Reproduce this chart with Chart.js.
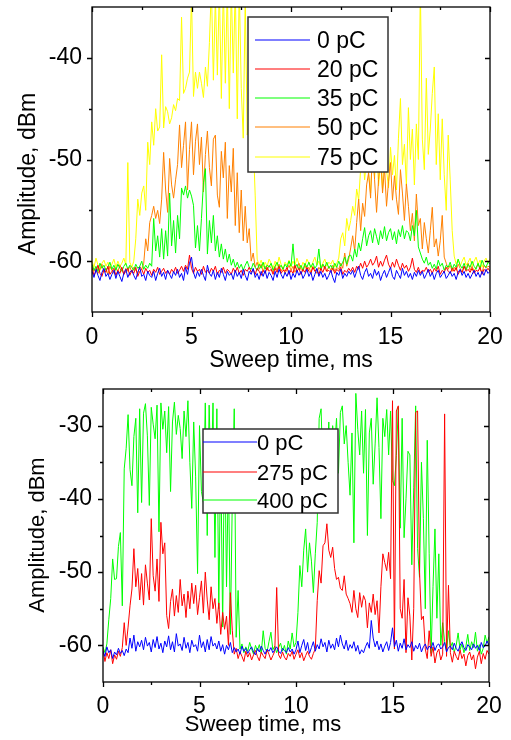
<!DOCTYPE html>
<html>
<head>
<meta charset="utf-8">
<script src="https://cdn.jsdelivr.net/npm/chart.js@4.4.0/dist/chart.umd.min.js"></script>
<style>
  html, body { margin: 0; padding: 0; background: #fff; }
  body { width: 511px; height: 740px; position: relative; overflow: hidden; }
  .panel { position: absolute; left: 0; width: 511px; }
  #top { top: 0; height: 380px; }
  #bottom { top: 380px; height: 360px; }
</style>
</head>
<body>
<div class="panel" id="top"><canvas id="chartTop" width="511" height="380"></canvas></div>
<div class="panel" id="bottom"><canvas id="chartBottom" width="511" height="360"></canvas></div>
<script>
// sweep samples every 0.1 ms, 0..20 ms
const STEP = 0.1
const xTicks = [0, 5, 10, 15, 20]
const xMinor = [2.5, 7.5, 12.5, 17.5]
const topYTicks = [-60, -50, -40]
const topYMinor = [-55, -45]
const botYTicks = [-60, -50, -40, -30]
const botYMinor = [-55, -45, -35]

const topLabels = ["0 pC", "20 pC", "35 pC", "50 pC", "75 pC"]
const botLabels = ["0 pC", "275 pC", "400 pC"]

// top panel
const top0 = [
  -61.0,-61.6,-60.8,-61.4,-61.9,-61.1,-60.7,-61.5,-61.2,-61.8,
  -61.3,-60.9,-61.7,-61.0,-61.5,-62.0,-61.2,-60.8,-61.6,-61.1,
  -60.9,-61.4,-61.8,-61.1,-60.6,-61.5,-61.3,-61.9,-61.0,-61.4,
  -61.6,-61.0,-61.9,-61.2,-60.7,-61.5,-61.1,-61.8,-60.9,-61.3,
  -61.7,-61.0,-61.4,-60.8,-61.6,-61.2,-61.9,-60.6,-61.3,-60.2,
  -59.6,-61.1,-61.7,-61.0,-61.5,-60.8,-61.4,-61.9,-60.4,-61.2,
  -61.5,-60.9,-61.8,-61.1,-61.6,-60.7,-61.3,-61.9,-61.0,-61.4,
  -61.2,-61.8,-60.9,-61.5,-61.1,-61.7,-60.8,-61.4,-61.9,-61.0,
  -61.3,-60.7,-61.6,-61.2,-61.8,-61.0,-61.5,-60.9,-61.7,-61.1,
  -61.4,-61.9,-61.0,-61.6,-60.8,-61.3,-61.7,-61.1,-61.5,-60.9,
  -61.8,-61.2,-61.6,-60.9,-61.4,-61.0,-61.7,-61.3,-60.8,-61.5,
  -61.1,-61.9,-61.3,-60.7,-61.5,-61.0,-61.6,-61.2,-61.8,-61.4,
  -60.9,-61.6,-62.1,-61.1,-61.4,-60.8,-61.7,-61.2,-61.5,-61.0,
  -61.3,-60.9,-61.6,-61.0,-60.5,-61.4,-61.8,-61.1,-60.7,-61.5,
  -61.2,-61.7,-60.8,-61.4,-61.0,-61.9,-61.3,-60.9,-61.6,-61.1,
  -60.6,-61.5,-61.8,-60.9,-61.3,-61.7,-60.7,-61.4,-61.0,-61.6,
  -61.2,-61.8,-61.1,-61.5,-60.9,-61.4,-61.0,-61.7,-61.3,-60.8,
  -61.5,-61.1,-61.8,-61.2,-60.9,-61.6,-61.3,-61.0,-61.7,-61.4,
  -61.0,-61.5,-61.2,-61.8,-61.1,-60.8,-61.4,-61.0,-61.6,-61.2,
  -61.7,-61.3,-60.9,-61.5,-61.1,-61.6,-61.0,-61.4,-60.8,-61.2,
  -61.0
]
const top20 = [
  -60.6,-61.4,-61.0,-60.4,-61.2,-61.5,-60.8,-61.1,-60.5,-61.3,
  -61.0,-60.7,-61.4,-60.9,-61.2,-60.6,-61.3,-61.0,-60.7,-61.4,
  -60.9,-61.2,-60.6,-61.5,-61.0,-60.8,-61.3,-60.7,-61.1,-60.9,
  -61.4,-60.8,-61.1,-60.6,-61.3,-61.0,-60.7,-61.2,-60.9,-61.3,
  -60.8,-61.1,-60.6,-61.2,-60.9,-60.5,-61.0,-60.4,-60.8,-59.4,
  -60.7,-61.2,-60.6,-61.0,-60.8,-61.3,-60.5,-61.1,-60.9,-61.2,
  -60.7,-61.0,-60.5,-61.3,-60.9,-61.1,-60.6,-61.2,-60.8,-61.0,
  -61.3,-60.7,-61.1,-60.6,-61.2,-60.9,-61.4,-60.8,-61.0,-60.6,
  -61.1,-60.8,-61.3,-60.7,-61.0,-61.4,-60.9,-61.2,-60.6,-61.0,
  -60.8,-61.3,-60.7,-61.1,-60.5,-61.2,-60.9,-61.0,-60.6,-61.3,
  -60.9,-61.2,-60.4,-61.0,-60.7,-61.3,-60.8,-61.1,-60.6,-61.0,
  -61.2,-60.6,-61.0,-60.8,-61.3,-60.7,-61.1,-60.5,-61.0,-60.9,
  -61.1,-60.7,-61.2,-60.8,-61.0,-60.6,-61.3,-60.9,-61.1,-60.7,
  -61.0,-60.6,-61.1,-60.5,-60.8,-60.2,-60.7,-60.0,-60.6,-60.3,
  -59.8,-60.4,-60.1,-59.5,-60.6,-60.0,-60.5,-59.9,-59.4,-60.3,
  -60.7,-60.1,-60.6,-59.8,-60.4,-60.9,-60.2,-60.7,-60.4,-61.0,
  -60.6,-59.7,-60.8,-61.1,-60.6,-61.2,-60.9,-61.0,-60.6,-61.1,
  -60.8,-61.2,-60.7,-61.0,-60.5,-61.3,-60.9,-61.1,-60.6,-61.0,
  -61.2,-60.7,-61.0,-60.6,-61.3,-60.9,-61.1,-60.5,-61.0,-60.8,
  -61.1,-60.7,-61.2,-60.9,-61.0,-60.6,-61.3,-60.8,-61.0,-60.7,
  -61.0
]
const top35 = [
  -60.3,-60.9,-60.5,-61.0,-60.2,-60.7,-60.4,-60.9,-60.6,-60.1,
  -60.8,-60.4,-60.9,-60.3,-60.7,-61.0,-60.5,-60.2,-60.8,-60.4,
  -60.6,-60.9,-60.3,-60.7,-60.5,-60.0,-60.8,-60.4,-60.7,-60.2,
  -60.5,-55.8,-59.0,-57.5,-59.6,-56.8,-59.8,-57.0,-59.5,-53.3,
  -58.5,-56.0,-59.2,-55.5,-57.8,-52.8,-53.5,-52.6,-53.8,-53.0,
  -53.6,-54.5,-58.7,-56.5,-59.0,-55.8,-52.3,-50.9,-59.3,-56.0,
  -58.2,-55.5,-59.0,-57.5,-59.6,-58.3,-59.8,-58.8,-60.1,-59.3,
  -60.4,-59.8,-60.6,-60.1,-60.7,-60.3,-60.9,-60.4,-60.0,-60.6,
  -60.8,-60.2,-60.6,-60.9,-60.3,-60.7,-60.1,-60.8,-60.4,-60.6,
  -60.2,-60.9,-60.5,-60.1,-60.7,-60.4,-60.8,-60.3,-60.6,-60.0,
  -60.5,-58.3,-60.7,-60.3,-60.8,-60.4,-60.9,-60.2,-60.6,-60.1,
  -60.6,-60.2,-60.7,-60.4,-58.8,-60.8,-60.3,-60.6,-60.1,-60.7,
  -60.4,-60.8,-60.2,-60.6,-60.0,-60.5,-60.1,-59.6,-60.3,-59.5,
  -59.4,-60.0,-58.8,-59.6,-58.2,-59.0,-57.8,-56.7,-58.5,-57.5,
  -57.0,-58.2,-56.8,-57.6,-58.4,-57.0,-57.8,-56.6,-58.0,-57.2,
  -56.8,-57.9,-57.1,-58.3,-56.9,-57.6,-56.5,-57.8,-57.0,-57.2,
  -58.0,-56.5,-57.5,-55.0,-58.6,-59.2,-59.8,-60.2,-59.6,-60.4,
  -60.1,-60.7,-60.3,-60.8,-59.9,-60.5,-60.2,-60.9,-60.4,-60.6,
  -60.1,-60.8,-60.3,-60.6,-59.8,-60.4,-60.7,-60.2,-60.9,-60.3,
  -60.6,-60.0,-60.5,-60.8,-60.2,-60.7,-59.9,-60.4,-60.6,-60.1,
  -60.3
]
const top50 = [
  -60.4,-61.0,-60.6,-61.2,-60.8,-60.3,-61.1,-60.7,-61.3,-60.5,
  -60.9,-61.2,-60.6,-61.0,-60.4,-60.8,-61.3,-60.7,-61.0,-60.5,
  -61.1,-60.6,-60.9,-61.2,-60.5,-60.8,-60.2,-57.8,-59.0,-56.2,
  -55.5,-54.6,-55.8,-55.0,-56.3,-53.9,-49.3,-53.0,-55.2,-49.9,
  -52.5,-53.8,-52.0,-50.5,-46.6,-50.8,-48.6,-46.3,-53.0,-49.0,
  -46.3,-51.5,-48.2,-46.5,-50.5,-47.8,-53.2,-49.5,-47.2,-50.8,
  -52.6,-48.0,-47.6,-53.5,-54.7,-49.2,-51.8,-48.3,-55.8,-50.6,
  -53.2,-48.9,-56.5,-51.3,-57.2,-53.0,-58.0,-54.6,-58.2,-56.8,
  -60.0,-59.2,-60.6,-60.1,-60.8,-60.3,-61.0,-60.5,-60.9,-60.4,
  -60.7,-61.1,-60.5,-60.9,-60.3,-61.0,-60.6,-61.2,-60.8,-60.4,
  -60.9,-60.5,-61.1,-60.7,-60.2,-60.8,-61.0,-60.4,-60.9,-60.6,
  -61.1,-60.5,-60.8,-61.2,-60.6,-60.9,-60.3,-60.8,-61.0,-60.5,
  -60.9,-60.4,-61.0,-60.6,-60.8,-60.2,-60.7,-59.2,-60.5,-59.8,
  -58.7,-57.5,-59.0,-56.2,-53.9,-57.0,-54.3,-55.6,-52.5,-51.3,
  -53.8,-48.6,-52.0,-55.2,-52.0,-49.0,-53.3,-50.8,-54.6,-52.2,
  -50.3,-54.0,-51.6,-53.9,-55.4,-51.0,-53.3,-56.0,-52.4,-54.6,
  -57.0,-55.3,-58.0,-53.4,-56.5,-55.8,-58.8,-56.2,-57.8,-59.2,
  -57.0,-54.7,-58.6,-57.8,-59.5,-58.0,-55.5,-59.6,-60.2,-60.8,
  -60.4,-61.0,-60.6,-60.9,-60.3,-60.7,-61.1,-60.5,-60.8,-60.2,
  -60.9,-60.5,-61.0,-60.6,-60.3,-60.8,-61.1,-60.4,-60.7,-60.5,
  -60.6
]
const top75 = [
  -60.0,-60.6,-59.7,-60.4,-60.9,-60.2,-59.9,-60.5,-60.1,-60.7,
  -60.3,-59.8,-60.6,-60.0,-60.5,-60.2,-59.7,-60.4,-50.3,-60.1,
  -60.6,-60.0,-57.8,-53.9,-55.5,-53.3,-52.6,-55.0,-48.3,-50.5,
  -46.3,-48.6,-45.0,-47.2,-46.8,-39.7,-46.9,-44.8,-45.3,-46.5,
  -45.9,-44.6,-45.2,-44.0,-44.2,-36.0,-43.5,-43.0,-42.0,-41.4,
  -34.0,-43.8,-41.4,-43.0,-41.4,-42.5,-43.9,-40.9,-42.8,-38.5,
  -33.0,-42.2,-34.0,-41.7,-33.0,-44.0,-33.0,-42.5,-33.0,-45.0,
  -33.0,-41.5,-33.0,-46.0,-33.0,-43.0,-47.9,-34.0,-47.6,-45.5,
  -51.3,-48.0,-53.5,-59.8,-60.4,-59.9,-60.6,-60.1,-60.5,-59.8,
  -60.2,-60.7,-60.0,-60.5,-59.6,-60.3,-60.8,-60.1,-60.4,-59.9,
  -60.6,-60.0,-60.4,-59.7,-60.3,-60.8,-60.1,-60.5,-59.8,-60.2,
  -60.7,-60.1,-59.6,-60.4,-60.0,-60.6,-60.2,-59.8,-60.5,-60.1,
  -60.3,-59.9,-60.6,-60.2,-59.7,-57.8,-57.2,-58.5,-55.8,-57.0,
  -56.0,-54.6,-55.5,-52.9,-54.0,-50.9,-48.9,-52.0,-49.9,-51.5,
  -53.3,-49.2,-51.8,-48.8,-52.6,-50.2,-53.0,-48.6,-51.0,-52.8,
  -48.8,-51.5,-49.6,-53.0,-47.9,-44.0,-50.5,-48.5,-52.6,-44.9,
  -50.0,-47.0,-52.5,-46.5,-50.0,-33.0,-48.0,-51.0,-42.0,-49.5,
  -47.0,-43.5,-40.9,-50.5,-45.5,-52.0,-46.0,-51.5,-55.0,-47.6,
  -52.0,-57.0,-59.5,-60.3,-59.8,-60.5,-60.0,-59.6,-60.4,-60.1,
  -59.7,-60.5,-60.0,-59.6,-60.3,-59.9,-60.6,-60.0,-59.7,-60.2,
  -59.8
]

// bottom panel
const bot0 = [
  -60.8,-61.5,-60.2,-61.0,-60.6,-61.8,-60.9,-61.3,-60.4,-61.1,
  -60.7,-61.4,-60.5,-61.0,-59.0,-60.4,-58.6,-60.8,-59.5,-60.2,
  -59.3,-60.6,-58.9,-60.1,-59.6,-60.9,-59.2,-60.3,-58.8,-60.5,
  -59.7,-61.0,-59.4,-60.2,-58.7,-60.6,-59.5,-60.9,-58.4,-60.1,
  -59.8,-60.7,-58.9,-60.4,-59.6,-61.0,-59.3,-60.2,-59.9,-60.8,
  -58.6,-60.3,-59.5,-60.9,-59.2,-60.6,-58.8,-60.1,-59.7,-60.5,
  -59.4,-60.8,-59.9,-61.2,-60.0,-60.6,-59.6,-61.0,-60.3,-60.9,
  -60.5,-61.2,-60.1,-60.8,-60.4,-61.1,-60.6,-60.2,-60.9,-61.3,
  -60.4,-60.9,-60.1,-60.7,-61.2,-60.5,-60.8,-60.3,-61.0,-60.6,
  -60.2,-60.8,-61.1,-60.4,-60.7,-61.0,-60.3,-60.9,-60.5,-61.2,
  -60.6,-59.4,-61.0,-60.0,-59.2,-60.7,-59.6,-61.1,-60.3,-59.5,
  -60.8,-59.9,-60.5,-59.1,-60.2,-59.6,-60.9,-59.3,-60.4,-59.8,
  -60.6,-59.0,-60.2,-58.6,-59.8,-60.5,-59.3,-60.7,-59.9,-60.4,
  -59.5,-60.8,-60.0,-61.2,-60.6,-61.0,-60.2,-59.6,-60.4,-56.6,
  -59.0,-60.2,-59.4,-60.6,-59.8,-60.9,-60.1,-59.5,-60.7,-59.6,
  -57.6,-60.2,-59.3,-60.8,-59.7,-60.4,-59.1,-60.6,-59.9,-60.3,
  -59.5,-60.8,-60.0,-60.5,-59.7,-60.9,-60.2,-59.8,-60.6,-60.1,
  -60.4,-59.6,-60.7,-60.0,-59.8,-60.5,-60.2,-59.6,-60.9,-60.3,
  -60.1,-60.6,-59.7,-60.4,-60.8,-60.0,-59.5,-60.3,-60.7,-59.9,
  -60.2,-60.6,-59.8,-60.4,-60.0,-60.7,-59.6,-60.3,-60.1,-59.4,
  -60.0
]
const bot275 = [
  -60.5,-62.2,-61.0,-61.8,-60.6,-62.5,-61.3,-61.9,-60.8,-61.5,
  -60.3,-56.9,-60.0,-57.5,-54.6,-52.3,-46.8,-52.0,-49.5,-53.8,
  -50.2,-54.5,-49.0,-51.5,-53.8,-42.7,-50.5,-52.6,-48.2,-54.0,
  -43.2,-47.5,-46.0,-55.9,-57.7,-54.0,-52.3,-56.0,-53.2,-55.5,
  -51.0,-54.6,-53.0,-56.2,-52.6,-55.0,-51.5,-54.3,-51.8,-55.8,
  -53.5,-51.2,-55.6,-50.0,-53.8,-56.5,-52.0,-55.0,-53.6,-57.0,
  -54.2,-58.5,-55.5,-57.8,-56.0,-60.0,-52.8,-58.0,-61.2,-60.4,
  -61.8,-60.9,-61.5,-62.2,-60.8,-61.6,-61.0,-62.0,-61.3,-60.7,
  -61.5,-62.1,-60.9,-61.4,-61.8,-60.6,-61.2,-62.0,-61.4,-60.8,
  -52.1,-61.3,-61.8,-60.9,-61.6,-62.0,-61.1,-61.5,-60.8,-61.9,
  -61.2,-60.6,-61.7,-61.0,-62.1,-61.4,-60.8,-61.5,-61.9,-61.1,
  -60.5,-53.9,-49.8,-51.5,-46.4,-46.0,-43.4,-47.0,-48.0,-46.6,
  -49.5,-51.0,-50.7,-52.2,-52.5,-50.5,-53.0,-53.6,-54.3,-55.5,
  -52.5,-55.0,-56.2,-52.8,-54.8,-53.2,-53.9,-57.6,-54.2,-55.5,
  -53.0,-55.8,-53.9,-58.3,-52.0,-47.5,-48.7,-49.8,-47.3,-50.9,
  -26.6,-60.5,-28.0,-27.3,-55.0,-56.3,-51.0,-61.0,-53.5,-56.0,
  -62.0,-55.0,-28.2,-28.0,-50.0,-56.5,-56.0,-60.5,-61.8,-58.0,
  -61.5,-60.2,-62.4,-61.0,-60.5,-62.0,-61.2,-28.4,-61.5,-51.8,
  -61.0,-62.3,-60.8,-61.5,-62.0,-60.6,-61.8,-61.2,-62.8,-61.4,
  -60.9,-62.0,-61.3,-63.2,-61.6,-60.8,-62.5,-61.1,-61.9,-60.7,
  -61.2
]
const bot400 = [
  -60.2,-61.0,-59.8,-56.5,-53.6,-48.2,-51.0,-50.9,-46.5,-44.6,
  -54.6,-35.9,-33.1,-28.5,-36.0,-38.2,-31.5,-29.0,-41.9,-27.7,
  -40.5,-28.3,-27.0,-31.4,-40.9,-27.5,-29.8,-31.8,-27.2,-44.5,
  -26.9,-30.5,-28.0,-33.7,-27.4,-39.0,-29.5,-26.8,-31.2,-28.6,
  -30.4,-34.5,-28.0,-31.5,-26.6,-35.0,-41.3,-29.5,-37.0,-50.2,
  -30.0,-39.0,-40.5,-26.9,-45.0,-27.2,-38.0,-26.9,-48.0,-27.7,
  -55.0,-33.0,-57.5,-30.5,-52.0,-36.0,-58.5,-40.0,-27.7,-58.9,
  -52.5,-60.5,-59.8,-61.0,-60.2,-60.8,-59.6,-60.5,-61.2,-60.0,
  -60.7,-59.9,-61.1,-58.0,-60.4,-60.9,-59.5,-58.2,-60.6,-60.1,
  -61.0,-60.3,-59.7,-60.8,-60.0,-61.2,-59.4,-60.5,-58.3,-60.2,
  -59.6,-55.5,-49.1,-52.0,-47.0,-44.1,-50.0,-46.0,-48.5,-52.8,
  -47.5,-43.2,-29.0,-27.7,-36.8,-31.0,-34.5,-29.5,-37.0,-30.0,
  -33.0,-29.0,-36.5,-28.2,-27.3,-32.5,-30.0,-35.0,-39.5,-31.0,
  -46.0,-25.6,-30.5,-34.0,-28.0,-36.5,-27.8,-45.0,-31.0,-29.0,
  -38.0,-32.5,-26.2,-33.0,-42.7,-29.0,-31.5,-27.8,-34.0,-28.0,
  -37.5,-38.2,-34.1,-27.5,-44.0,-29.0,-45.3,-40.0,-33.5,-34.0,
  -49.0,-38.5,-27.3,-46.8,-50.7,-35.0,-42.7,-55.0,-32.0,-47.5,
  -61.1,-52.0,-44.1,-56.3,-47.5,-60.0,-56.9,-59.5,-60.8,-58.0,
  -60.3,-59.6,-60.9,-60.0,-58.3,-60.6,-59.8,-61.0,-60.2,-58.5,
  -60.7,-59.5,-60.3,-58.2,-60.8,-59.9,-61.2,-60.4,-58.6,-59.7,
  -58.8
]

const FONT = "'Liberation Sans', Arial, sans-serif"
Chart.defaults.font.family = FONT
Chart.defaults.font.size = 23
Chart.defaults.color = "#000"

function toPoints(values) {
  return values.map((v, i) => ({ x: i * STEP, y: v }))
}

function makeDataset(label, values, color) {
  return {
    label: label,
    data: toPoints(values),
    borderColor: color,
    borderWidth: 1,
    pointRadius: 0,
    tension: 0,
    fill: false,
    clip: 0,
  }
}

// frame, tick marks, axis titles and the boxed legend
const framePlugin = {
  id: "frame",
  afterDraw(chart, args, opts) {
    const { ctx, chartArea: a, scales } = chart
    const xs = scales.x
    const ys = scales.y
    ctx.save()
    ctx.strokeStyle = "#000"
    ctx.lineWidth = 1.3
    ctx.strokeRect(a.left, a.top, a.right - a.left, a.bottom - a.top)

    ctx.beginPath()
    const xMark = (v, len) => {
      const px = Math.round(xs.getPixelForValue(v)) + 0.5
      ctx.moveTo(px, a.bottom); ctx.lineTo(px, a.bottom + len)
      ctx.moveTo(px, a.top); ctx.lineTo(px, a.top + len)
    }
    const yMark = (v, len) => {
      const py = Math.round(ys.getPixelForValue(v)) + 0.5
      ctx.moveTo(a.left, py); ctx.lineTo(a.left - len, py)
      ctx.moveTo(a.right, py); ctx.lineTo(a.right - len, py)
    }
    xTicks.forEach((v) => xMark(v, 5))
    xMinor.forEach((v) => xMark(v, 3))
    opts.yMajor.forEach((v) => yMark(v, 5))
    opts.yMinor.forEach((v) => yMark(v, 3))
    ctx.stroke()

    ctx.fillStyle = "#000"
    ctx.font = opts.fontSize + "px " + FONT
    ctx.textAlign = "center"
    ctx.textBaseline = "alphabetic"
    ctx.fillText("Sweep time, ms", opts.xTitle[0], opts.xTitle[1])
    ctx.save()
    ctx.translate(opts.yTitle[0], opts.yTitle[1])
    ctx.rotate(-Math.PI / 2)
    ctx.fillText("Amplitude, dBm", 0, 0)
    ctx.restore()

    const L = opts.legend
    ctx.fillStyle = "#fff"
    ctx.fillRect(L.x, L.y, L.w, L.h)
    ctx.strokeStyle = "#333"
    ctx.lineWidth = 1.5
    ctx.strokeRect(L.x, L.y, L.w, L.h)
    ctx.textAlign = "left"
    chart.data.datasets.forEach((ds, i) => {
      const ry = L.rows[i]
      ctx.strokeStyle = ds.borderColor
      ctx.lineWidth = 1.2
      ctx.beginPath()
      ctx.moveTo(L.lineX0, ry)
      ctx.lineTo(L.lineX1, ry)
      ctx.stroke()
      ctx.fillStyle = "#000"
      ctx.fillText(ds.label, L.textX, ry + 8)
    })
    ctx.restore()
  },
}

function makeScales(yMin, yMax, yTicks, yWidth, xHeight, pad) {
  return {
    x: {
      type: "linear",
      min: 0,
      max: 20,
      afterBuildTicks: (s) => { s.ticks = xTicks.map((v) => ({ value: v })) },
      afterFit: (s) => { s.height = xHeight; s.paddingLeft = 0; s.paddingRight = 0 },
      grid: { display: false, drawTicks: false, tickLength: 0 },
      border: { display: false },
      ticks: { padding: pad.x, maxRotation: 0, autoSkip: false },
    },
    y: {
      type: "linear",
      min: yMin,
      max: yMax,
      afterBuildTicks: (s) => { s.ticks = yTicks.map((v) => ({ value: v })) },
      afterFit: (s) => { s.width = yWidth; s.paddingTop = 0; s.paddingBottom = 0 },
      grid: { display: false, drawTicks: false, tickLength: 0 },
      border: { display: false },
      ticks: { padding: pad.y, autoSkip: false },
    },
  }
}

const topChart = new Chart(document.getElementById("chartTop"), {
  type: "line",
  data: {
    datasets: [
      makeDataset(topLabels[0], top0, "#0000ff"),
      makeDataset(topLabels[1], top20, "#ff0000"),
      makeDataset(topLabels[2], top35, "#00ff00"),
      makeDataset(topLabels[3], top50, "#ff8000"),
      makeDataset(topLabels[4], top75, "#ffff00"),
    ],
  },
  options: {
    responsive: false,
    animation: false,
    layout: { padding: { left: 0, right: 21, top: 7, bottom: 0 } },
    scales: makeScales(-65, -35, topYTicks, 92, 68, { x: 12, y: 10 }),
    plugins: {
      legend: { display: false },
      tooltip: { enabled: false },
      frame: {
        yMajor: topYTicks,
        yMinor: topYMinor,
        fontSize: 23,
        xTitle: [291, 367],
        yTitle: [35, 174],
        legend: { x: 248, y: 17, w: 140, h: 155, rows: [40, 69, 98, 127, 157], lineX0: 255, lineX1: 310, textX: 317 },
      },
    },
  },
  plugins: [framePlugin],
})

const bottomChart = new Chart(document.getElementById("chartBottom"), {
  type: "line",
  data: {
    datasets: [
      makeDataset(botLabels[0], bot0, "#0000ff"),
      makeDataset(botLabels[1], bot275, "#ff0000"),
      makeDataset(botLabels[2], bot400, "#00ff00"),
    ],
  },
  options: {
    responsive: false,
    animation: false,
    layout: { padding: { left: 0, right: 22, top: 9, bottom: 0 } },
    scales: makeScales(-65, -25, botYTicks, 103, 58, { x: 11, y: 11 }),
    plugins: {
      legend: { display: false },
      tooltip: { enabled: false },
      frame: {
        yMajor: botYTicks,
        yMinor: botYMinor,
        fontSize: 22,
        xTitle: [263, 351],
        yTitle: [44, 155],
        legend: { x: 203, y: 49, w: 135, h: 84, rows: [62, 92, 120], lineX0: 203, lineX1: 257, textX: 257 },
      },
    },
  },
  plugins: [framePlugin],
})
</script>
</body>
</html>
